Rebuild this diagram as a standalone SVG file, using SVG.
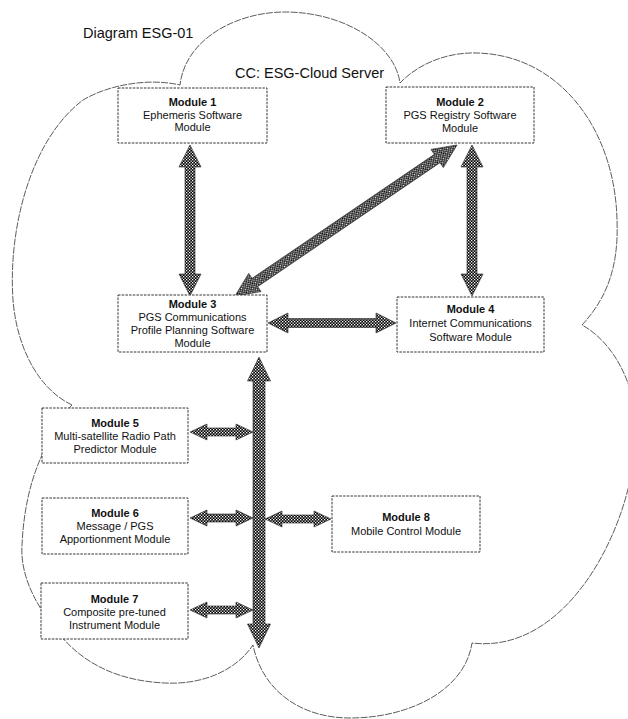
<svg xmlns="http://www.w3.org/2000/svg" width="628" height="719" viewBox="0 0 628 719">
<defs>
<pattern id="chk" patternUnits="userSpaceOnUse" width="3" height="3">
<rect width="3" height="3" fill="#000"/>
<rect x="0" y="0" width="1.3" height="1.3" fill="#fff"/>
<rect x="1.5" y="1.5" width="1.3" height="1.3" fill="#fff"/>
</pattern>
<style>
.cloud{fill:none;stroke:#333;stroke-width:0.8;stroke-dasharray:7,1.2}
.box{fill:#fff;stroke:#333;stroke-width:1;stroke-dasharray:2.5,1.2}
.arr{fill:url(#chk);stroke:#222;stroke-width:0.6}
.t{font-family:"Liberation Sans",Arial,sans-serif;font-size:11px;fill:#111;text-anchor:middle}
.b{font-weight:bold}
.title{font-family:"Liberation Sans",Arial,sans-serif;font-size:14.5px;fill:#111}
</style>
</defs>
<rect width="628" height="719" fill="#fff"/>
<g id="cloud">
<path class="cloud" d="M72,405 C40,390 17,350 13,300 C8,230 30,140 83,100 C110,84 150,78 180,85 C185,40 235,12 285,12 C345,12 395,45 400,83 C420,62 450,52 477,53 C560,55 615,130 617,220 C619,270 605,300 582,325 C610,340 636,380 636,430 C636,520 570,655 472,643 C465,690 410,718 350,718 C300,718 262,690 253,645 C235,672 200,685 165,683 C120,681 85,665 60,635 C35,605 20,575 22,545 C24,500 35,465 50,440 C58,425 65,412 72,405 Z"/>
</g>
<g id="labels">
<text class="title" x="83" y="38">Diagram ESG-01</text>
<text class="title" x="235" y="78">CC: ESG-Cloud Server</text>
</g>
<g id="connectors">
<path class="arr" d="M190,145 L201,167 L195,167 L195,274 L201,274 L190,296 L179,274 L185,274 L185,167 L179,167 Z"/>
<path class="arr" transform="translate(235,296) rotate(-34.22)" d="M0,0 L24,-11 L24,-5 L244.5,-5 L244.5,-11 L268.5,0 L244.5,11 L244.5,5 L24,5 L24,11 Z"/>
<path class="arr" d="M472,145 L483,167 L477,167 L477,274 L483,274 L472,296 L461,274 L467,274 L467,167 L461,167 Z"/>
<path class="arr" d="M268,323 L288,313 L288,318.5 L376,318.5 L376,313 L396,323 L376,333 L376,327.5 L288,327.5 L288,333 Z"/>
<path class="arr" d="M190,432 L207,424 L207,428 L236,428 L236,424 L253,432 L236,440 L236,436 L207,436 L207,440 Z"/>
<path class="arr" d="M190,518 L207,510 L207,514 L236,514 L236,510 L253,518 L236,526 L236,522 L207,522 L207,526 Z"/>
<path class="arr" d="M265,519 L282,511 L282,515 L314,515 L314,511 L331,519 L314,527 L314,523 L282,523 L282,527 Z"/>
<path class="arr" d="M190,610 L207,602 L207,606 L236,606 L236,602 L253,610 L236,618 L236,614 L207,614 L207,618 Z"/>
<path class="arr" d="M259,357 L270.5,381 L265,381 L265,624 L270.5,624 L259,648 L247.5,624 L253,624 L253,381 L247.5,381 Z"/>
</g>
<g id="module1">
<rect class="box" x="118" y="88" width="149" height="55"/>
<text class="t b" x="192.5" y="106">Module 1</text>
<text class="t" x="192.5" y="119">Ephemeris Software</text>
<text class="t" x="192.5" y="131">Module</text>
</g>
<g id="module2">
<rect class="box" x="386" y="87" width="148" height="56"/>
<text class="t b" x="460" y="106">Module 2</text>
<text class="t" x="460" y="119">PGS Registry Software</text>
<text class="t" x="460" y="132">Module</text>
</g>
<g id="module3">
<rect class="box" x="118" y="295" width="149" height="57"/>
<text class="t b" x="192.5" y="308">Module 3</text>
<text class="t" x="192.5" y="321">PGS Communications</text>
<text class="t" x="192.5" y="334">Profile Planning Software</text>
<text class="t" x="192.5" y="347">Module</text>
</g>
<g id="module4">
<rect class="box" x="397" y="297" width="147" height="55"/>
<text class="t b" x="470.5" y="313">Module 4</text>
<text class="t" x="470.5" y="327">Internet Communications</text>
<text class="t" x="470.5" y="341">Software Module</text>
</g>
<g id="module5">
<rect class="box" x="42" y="408" width="146" height="55"/>
<text class="t b" x="115" y="427">Module 5</text>
<text class="t" x="115" y="440">Multi-satellite Radio Path</text>
<text class="t" x="115" y="453">Predictor Module</text>
</g>
<g id="module6">
<rect class="box" x="42" y="498" width="146" height="56"/>
<text class="t b" x="115" y="517">Module 6</text>
<text class="t" x="115" y="530">Message / PGS</text>
<text class="t" x="115" y="543">Apportionment Module</text>
</g>
<g id="module7">
<rect class="box" x="41" y="583" width="147" height="56"/>
<text class="t b" x="114.5" y="603">Module 7</text>
<text class="t" x="114.5" y="616">Composite pre-tuned</text>
<text class="t" x="114.5" y="629">Instrument Module</text>
</g>
<g id="module8">
<rect class="box" x="332" y="496" width="148" height="56"/>
<text class="t b" x="406" y="521">Module 8</text>
<text class="t" x="406" y="535">Mobile Control Module</text>
</g>
</svg>
